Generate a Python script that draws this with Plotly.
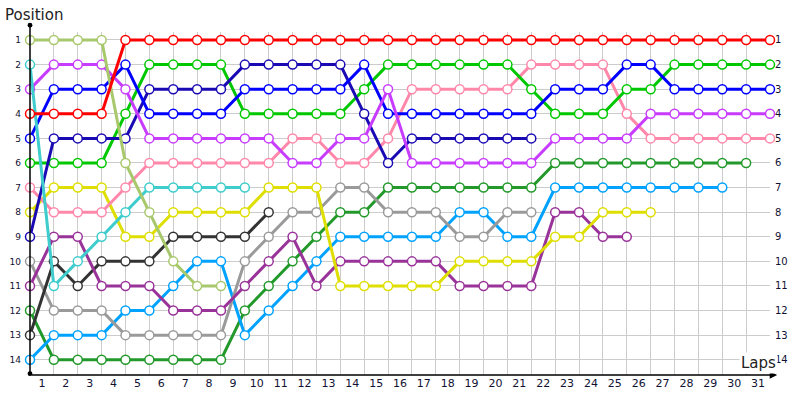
import plotly.graph_objects as go

# ── data: race position of each car after every lap (lap 0 = grid) ──
LAP_LABELS = [str(i) for i in range(1, 32)]
POSITIONS = list(range(1, 15))

red = [4, 4, 4, 4, 1, 1, 1, 1, 1, 1, 1, 1, 1, 1, 1, 1,
       1, 1, 1, 1, 1, 1, 1, 1, 1, 1, 1, 1, 1, 1, 1, 1]
olive = [1, 1, 1, 1, 6, 8, 10, 11, 11]
cyan = [2, 11, 10, 9, 8, 7, 7, 7, 7, 7]
violet = [3, 2, 2, 2, 3, 5, 5, 5, 5, 5, 5, 6, 6, 5, 5, 3,
          6, 6, 6, 6, 6, 6, 5, 5, 5, 5, 4, 4, 4, 4, 4, 4]
blue = [5, 3, 3, 3, 2, 4, 4, 4, 4, 3, 3, 3, 3, 3, 2, 4,
        4, 4, 4, 4, 4, 4, 3, 3, 3, 2, 2, 3, 3, 3, 3, 3]
dark_blue = [9, 5, 5, 5, 5, 3, 3, 3, 3, 2, 2, 2, 2, 2, 4, 6,
             5, 5, 5, 5, 5, 5]
green = [6, 6, 6, 6, 4, 2, 2, 2, 2, 4, 4, 4, 4, 4, 3, 2,
         2, 2, 2, 2, 2, 3, 4, 4, 4, 3, 3, 2, 2, 2, 2, 2]
pink = [7, 8, 8, 8, 7, 6, 6, 6, 6, 6, 6, 5, 5, 6, 6, 5,
        3, 3, 3, 3, 3, 2, 2, 2, 2, 4, 5, 5, 5, 5, 5, 5]
yellow = [8, 7, 7, 7, 9, 9, 8, 8, 8, 8, 7, 7, 7, 11, 11, 11,
          11, 11, 10, 10, 10, 10, 9, 9, 8, 8, 8]
purple = [11, 9, 9, 11, 11, 11, 12, 12, 12, 11, 10, 9, 11, 10, 10, 10,
          10, 10, 11, 11, 11, 11, 8, 8, 9, 9]
black = [13, 10, 11, 10, 10, 10, 9, 9, 9, 9, 8]
gray = [10, 12, 12, 12, 13, 13, 13, 13, 13, 10, 9, 8, 8, 7, 7, 8,
        8, 8, 9, 9, 8, 8]
light_blue = [14, 13, 13, 13, 12, 12, 11, 10, 10, 13, 12, 11, 10, 9, 9, 9,
              9, 9, 8, 8, 9, 9, 7, 7, 7, 7, 7, 7, 7, 7]
dark_green = [12, 14, 14, 14, 14, 14, 14, 14, 14, 12, 11, 10, 9, 8, 8, 7,
              7, 7, 7, 7, 7, 7, 6, 6, 6, 6, 6, 6, 6, 6, 6]

SERIES = [
    (dark_green, "#22992A"),
    (light_blue, "#00A2FF"),
    (gray, "#9A9A9A"),
    (black, "#333333"),
    (purple, "#993399"),
    (yellow, "#DEDE00"),
    (pink, "#FF88AA"),
    (green, "#00C800"),
    (dark_blue, "#1A0AB4"),
    (blue, "#0000FF"),
    (violet, "#C83CFF"),
    (cyan, "#3ECCCC"),
    (olive, "#A8C86C"),
    (red, "#FF0000"),
]

FONT = "DejaVu Sans"
GRID = "#CCCCCC"

fig = go.Figure()

for values, color in SERIES:
    fig.add_trace(go.Scatter(
        x=list(range(len(values))), y=values,
        mode="lines+markers",
        line=dict(color=color, width=3),
        marker=dict(size=9, color="white", line=dict(color=color, width=1.5)),
        cliponaxis=False, showlegend=False, hoverinfo="skip",
    ))

# invisible trace so the right-hand position axis is drawn
fig.add_trace(go.Scatter(
    x=[0, 31], y=[1, 14], yaxis="y2", mode="markers",
    marker=dict(opacity=0), showlegend=False, hoverinfo="skip",
))

fig.update_layout(
    width=800, height=400,
    paper_bgcolor="white", plot_bgcolor="white",
    margin=dict(l=30, r=30, t=32, b=25),
    font=dict(family=FONT, color="#111133"),
    xaxis=dict(
        range=[0, 31], automargin=False,
        tickmode="array",
        tickvals=[i + 0.5 for i in range(31)],
        ticktext=LAP_LABELS,
        tickfont=dict(size=11, color="#111133"),
        showgrid=False, zeroline=False, showline=False, ticks="",
        minor=dict(tick0=0, dtick=1, showgrid=True, gridcolor=GRID, gridwidth=1),
    ),
    yaxis=dict(
        range=[14.62, 0.675], automargin=False,
        tickmode="array", tickvals=POSITIONS,
        tickfont=dict(size=9, color="#111133"),
        showgrid=True, gridcolor=GRID, gridwidth=1,
        zeroline=False, showline=False, ticks="",
        ticklabelstandoff=8,
    ),
    yaxis2=dict(
        range=[14.62, 0.675], overlaying="y", side="right", automargin=False,
        tickmode="array", tickvals=POSITIONS,
        tickfont=dict(size=10, color="#111133"),
        showgrid=False, zeroline=False, showline=False, ticks="",
        ticklabelstandoff=4,
    ),
)

# axis lines drawn as arrows, extending past the plotting area
fig.add_annotation(
    x=0, y=1.02, xref="x", yref="paper",
    ax=0, ay=350, axref="pixel", ayref="pixel",
    showarrow=True, arrowhead=6, arrowsize=0.8, arrowwidth=1.5,
    startarrowhead=6, startarrowsize=0.8, arrowside="end+start",
    arrowcolor="black", text="",
)
fig.add_annotation(
    x=31.3, y=0, xref="x", yref="paper",
    ax=0, ay=0, axref="x", ayref="pixel",
    showarrow=True, arrowhead=2, arrowsize=1, arrowwidth=1.5,
    arrowcolor="black", text="",
)

fig.add_annotation(
    text="Position", x=-0.036, y=1.05, xref="paper", yref="paper",
    xanchor="left", yanchor="middle", showarrow=False,
    font=dict(size=15, color="#222222", family=FONT),
)
fig.add_annotation(
    text="Laps", x=0.985, y=0.035, xref="paper", yref="paper",
    xanchor="center", yanchor="middle", showarrow=False,
    bgcolor="white", font=dict(size=15, color="#222222", family=FONT),
)

# remove the browser's default body margin so the 800x400 figure fills the page
fig.write_html(
    "out.html",
    config={"displayModeBar": False},
    post_script="document.body.style.margin='0';",
)
